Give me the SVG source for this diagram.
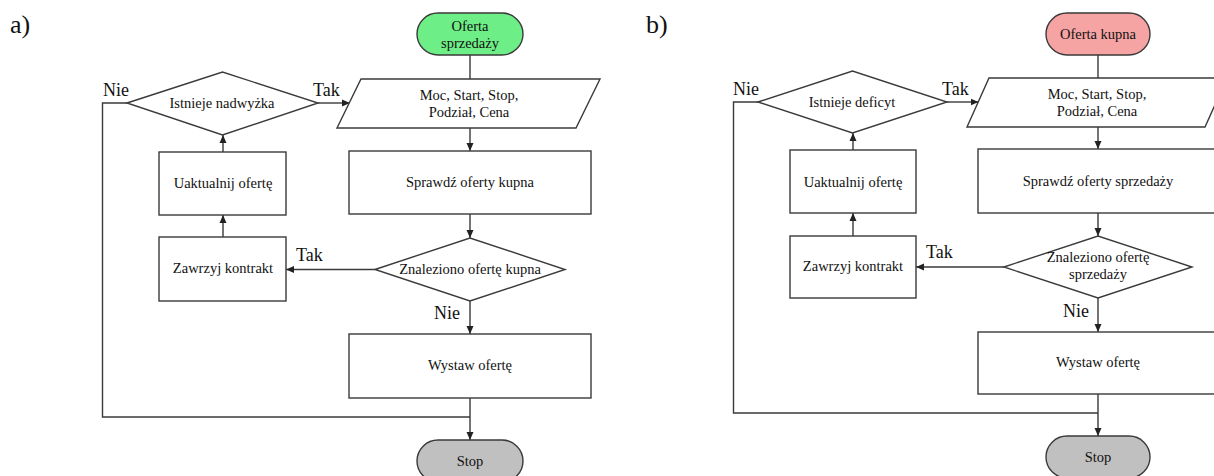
<svg xmlns="http://www.w3.org/2000/svg" width="1214" height="476" viewBox="0 0 1214 476">
<defs>
<marker id="arr" markerUnits="userSpaceOnUse" markerWidth="9" markerHeight="8" refX="8" refY="4" orient="auto">
<path d="M0,0.5 L8,4 L0,7.5 z" fill="#222"/>
</marker>
<style>
.sh{fill:#fff;stroke:#3a3a3a;stroke-width:1.4}
.t{font-family:"Liberation Serif","Times New Roman",serif;font-size:14.5px;fill:#111;text-anchor:middle}
.lb{font-family:"Liberation Serif","Times New Roman",serif;font-size:18px;fill:#111}
.pl{font-family:"Liberation Serif","Times New Roman",serif;font-size:26px;fill:#111}
.c{fill:none;stroke:#3a3a3a;stroke-width:1.4}
.ca{fill:none;stroke:#3a3a3a;stroke-width:1.4;marker-end:url(#arr)}
</style>
</defs>
<rect width="1214" height="476" fill="#fff"/>
<text class="pl" x="10" y="33">a)</text>
<text class="pl" x="646" y="33">b)</text>

<g id="connectors-a">
<path class="c" d="M470,55 V79"/>
<path class="ca" d="M470,128 V151"/>
<path class="ca" d="M470,214 V238"/>
<path class="ca" d="M375,269.5 H286"/>
<path class="ca" d="M223,237 V215"/>
<path class="ca" d="M223,152 V135"/>
<path class="ca" d="M318,103 H350"/>
<path class="c" d="M127,103 H102.5 V417 H470"/>
<path class="ca" d="M470,301 V334"/>
<path class="ca" d="M470,398 V440"/>
<text class="lb" x="313" y="96">Tak</text>
<text class="lb" x="103" y="96">Nie</text>
<text class="lb" x="296" y="261">Tak</text>
<text class="lb" x="434" y="319">Nie</text>
</g>
<g id="a-start"><rect class="sh" x="417" y="13" width="106" height="42" rx="21" style="fill:#6eee86"/><text class="t" x="470" y="31">Oferta</text><text class="t" x="470" y="48">sprzedaży</text></g>
<g id="a-input"><polygon class="sh" points="361,79 600,79 576,128 337,128"/><text class="t" x="469" y="100">Moc, Start, Stop,</text><text class="t" x="469" y="117">Podział, Cena</text></g>
<g id="a-check"><rect class="sh" x="349" y="151" width="242" height="63"/><text class="t" x="470" y="187">Sprawdź oferty kupna</text></g>
<g id="a-found"><polygon class="sh" points="375,269.5 470,238 565,269.5 470,301"/><text class="t" x="470" y="274">Znaleziono ofertę kupna</text></g>
<g id="a-contract"><rect class="sh" x="159" y="237" width="127" height="64"/><text class="t" x="223" y="273">Zawrzyj kontrakt</text></g>
<g id="a-update"><rect class="sh" x="159" y="152" width="127" height="63"/><text class="t" x="223" y="188">Uaktualnij ofertę</text></g>
<g id="a-exists"><polygon class="sh" points="127,103 222.5,72 318,103 222.5,135"/><text class="t" x="222" y="108">Istnieje nadwyżka</text></g>
<g id="a-post"><rect class="sh" x="349" y="334" width="242" height="64"/><text class="t" x="470" y="370">Wystaw ofertę</text></g>
<g id="a-stop"><rect class="sh" x="417" y="440" width="106" height="42" rx="21" style="fill:#c0c0c0"/><text class="t" x="470" y="466">Stop</text></g>

<g id="connectors-b">
<path class="c" d="M1098,55 V78"/>
<path class="ca" d="M1098,127 V149"/>
<path class="ca" d="M1098,213 V236"/>
<path class="ca" d="M1004,267 H916"/>
<path class="ca" d="M853,236 V213"/>
<path class="ca" d="M853,150 V133"/>
<path class="ca" d="M947,102 H978.5"/>
<path class="c" d="M758,102 H733.5 V413 H1098"/>
<path class="ca" d="M1098,298 V332"/>
<path class="ca" d="M1098,394 V436"/>
<text class="lb" x="942" y="95">Tak</text>
<text class="lb" x="733" y="95">Nie</text>
<text class="lb" x="926" y="258">Tak</text>
<text class="lb" x="1063" y="317">Nie</text>
</g>
<g id="b-start"><rect class="sh" x="1046" y="13" width="104" height="42" rx="21" style="fill:#f5a3a3"/><text class="t" x="1098" y="39">Oferta kupna</text></g>
<g id="b-input"><polygon class="sh" points="989,78 1227,78 1205,127 967,127"/><text class="t" x="1097" y="99">Moc, Start, Stop,</text><text class="t" x="1097" y="116">Podział, Cena</text></g>
<g id="b-check"><rect class="sh" x="978" y="149" width="250" height="64"/><text class="t" x="1098" y="186">Sprawdź oferty sprzedaży</text></g>
<g id="b-found"><polygon class="sh" points="1004,267 1098,236 1192,267 1098,298"/><text class="t" x="1098" y="262">Znaleziono ofertę</text><text class="t" x="1098" y="279">sprzedaży</text></g>
<g id="b-contract"><rect class="sh" x="790" y="236" width="126" height="62"/><text class="t" x="853" y="271">Zawrzyj kontrakt</text></g>
<g id="b-update"><rect class="sh" x="790" y="150" width="126" height="63"/><text class="t" x="853" y="187">Uaktualnij ofertę</text></g>
<g id="b-exists"><polygon class="sh" points="758,102 852.5,71 947,102 852.5,133"/><text class="t" x="852" y="107">Istnieje deficyt</text></g>
<g id="b-post"><rect class="sh" x="978" y="332" width="250" height="62"/><text class="t" x="1098" y="367">Wystaw ofertę</text></g>
<g id="b-stop"><rect class="sh" x="1046" y="436" width="104" height="42" rx="21" style="fill:#c0c0c0"/><text class="t" x="1098" y="462">Stop</text></g>
</svg>
